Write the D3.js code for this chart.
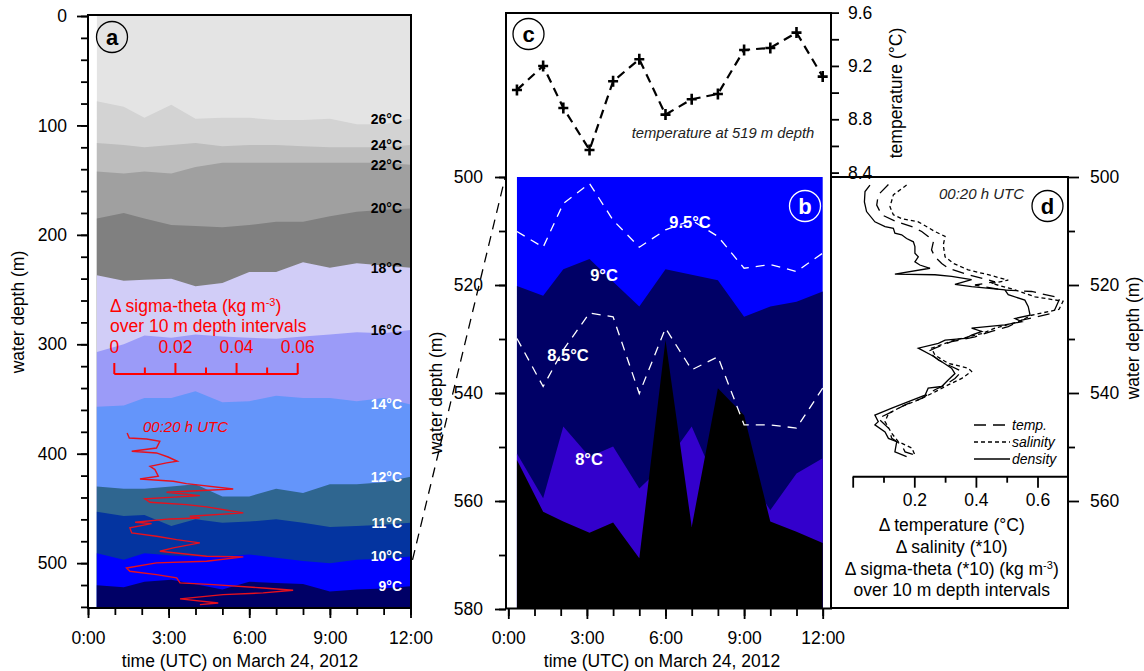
<!DOCTYPE html>
<html><head><meta charset="utf-8">
<script src="https://cdn.jsdelivr.net/npm/d3@7"></script>
<style>body{margin:0;background:#fff;}</style>
</head><body>
<svg id="chart" width="1144" height="671"></svg>
<script>
// ---------------- DATA ----------------
const times = [0.33, 1.33, 2.1, 3.1, 4.0, 5.0, 6.0, 7.0, 8.0, 9.0, 10.0, 11.0, 12.0];
// panel a isotherm depths (m)
const iso26 = [78, 83, 93, 81, 94, 93, 93, 95, 95, 94, 99, 99, 94];
const iso24 = [116, 118, 120, 118, 116, 119, 118, 118, 119, 120, 120, 120, 118];
const iso22 = [142, 144, 142, 144, 138, 134, 134, 134, 134, 134, 134, 134, 136];
const iso20 = [185, 180, 185, 191, 192, 193, 191, 188, 188, 183, 179, 177, 176];
const iso18 = [237, 242, 241, 240, 247, 244, 234, 234, 225, 230, 226, 228, 230];
const iso16 = [307, 300, 292, 294, 291, 293, 294, 295, 293, 291, 289, 290, 287];
const iso14 = [357, 356, 349, 349, 343, 353, 352, 347, 349, 349, 352, 349, 355];
const iso12 = [430, 432, 432, 430, 428, 439, 439, 432, 436, 428, 428, 426, 421];
const iso11 = [453, 457, 456, 466, 460, 463, 462, 460, 463, 467, 466, 465, 463];
const iso10 = [491, 497, 491, 493, 494, 494, 492, 495, 498, 500, 497, 496, 494];
const iso9  = [520.2, 522, 517.1, 515.2, 519.4, 524, 517.1, 518.1, 519.1, 525.9, 524, 523.1, 521.2];
const isoLabelsA = ["26°C","24°C","22°C","20°C","18°C","16°C","14°C","12°C","11°C","10°C","9°C"];
// panel b isotherms (m)
const iso95 = [510.1, 513, 504.9, 501.2, 508, 513, 509.8, 508, 511, 516.9, 516.2, 517.5, 514.1];
const iso85 = [529.9, 538.8, 532, 525.2, 525.9, 540.1, 528, 535.7, 533.3, 545.9, 545.9, 546.5, 539.1];
const iso8  = [551.2, 559.5, 546.2, 551.8, 549.9, 557.7, 553, 546.2, 557.3, 554.3, 561.7, 554.9, 552.1];
const isoBlack = [552.4, 562, 563.8, 565.9, 564, 570.6, 530.2, 564.8, 539.1, 544.1, 563.8, 565.7, 567.8];
// panel c temperature at 519 m (°C)
const temp519 = [9.02, 9.20, 8.885, 8.57, 9.085, 9.25, 8.835, 8.95, 8.99, 9.32, 9.335, 9.45, 9.12];
// panel a red profile: [delta sigma-theta, depth]
const sigProfile = [[0.0042,381.1],[0.0049,385.7],[0.0106,386.6],[0.0149,388.7],[0.0138,394.8],[0.0057,397.8],[0.0138,399.3],[0.0176,403],[0.0206,406.9],[0.0171,408.4],[0.0117,411.5],[0.0133,414.5],[0.0144,420.6],[0.0084,423.1],[0.0193,425.2],[0.0236,427.3],[0.0389,432.2],[0.0171,435.2],[0.0280,438.3],[0.0100,441.3],[0.0117,444.4],[0.0236,446.5],[0.0302,448.6],[0.0422,454.1],[0.0247,457.2],[0.0280,458.7],[0.0182,459.6],[0.0068,462.6],[0.0122,463.9],[0.0051,467.8],[0.0057,472.4],[0.0138,475.4],[0.0204,478.5],[0.0280,481.5],[0.0193,486.1],[0.0149,489.1],[0.0302,493.7],[0.0422,494.3],[0.0302,498.3],[0.0138,499.8],[0.0040,504.4],[0.0051,507.4],[0.0138,510.5],[0.0204,513.5],[0.0215,518.1],[0.0324,519.6],[0.0487,522.7],[0.0585,524.8],[0.0487,527.2],[0.0356,528.8],[0.0215,532.7],[0.0340,536.4],[0.0280,537.9]];
// panel d profiles: [value, depth]
const dTemp = [[0.116,501.4],[0.083,503.3],[0.078,505.2],[0.094,507],[0.143,508.3],[0.192,509.2],[0.224,510.1],[0.245,511],[0.262,512],[0.256,513.5],[0.267,514.8],[0.289,516],[0.310,516.9],[0.375,518.1],[0.462,519.4],[0.397,520],[0.484,520.9],[0.581,521.2],[0.673,522.4],[0.651,525.2],[0.549,526.5],[0.505,527.7],[0.451,528.6],[0.397,529.6],[0.321,530.5],[0.267,531.7],[0.245,532.3],[0.278,533.9],[0.321,535.1],[0.354,536],[0.332,537.3],[0.300,538.5],[0.267,539.4],[0.224,541],[0.170,542.2],[0.127,543.5],[0.083,544.7],[0.116,546.5],[0.127,548.4],[0.159,549.6],[0.170,550.9],[0.202,551.5]];
const dSal = [[0.175,501.5],[0.132,503.3],[0.121,505.5],[0.132,507],[0.159,507.7],[0.213,508.3],[0.267,510.1],[0.300,511],[0.294,512.6],[0.300,514.8],[0.327,516],[0.375,517.2],[0.440,518.1],[0.505,519.1],[0.451,519.7],[0.527,520.9],[0.592,522.2],[0.683,523],[0.67,524.5],[0.581,525.6],[0.538,526.8],[0.462,528],[0.419,529],[0.332,530.2],[0.256,531.7],[0.267,533],[0.310,534.5],[0.375,535.4],[0.386,536],[0.354,537.3],[0.310,538.5],[0.267,539.8],[0.213,541.3],[0.159,542.5],[0.116,543.8],[0.105,545.3],[0.127,547.5],[0.148,549],[0.192,550.2],[0.202,551.5]];
const dDens = [[0.056,501.5],[0.040,502.7],[0.038,504.6],[0.045,506.4],[0.072,508.3],[0.105,509.2],[0.132,509.5],[0.137,510.4],[0.159,510.7],[0.175,511.4],[0.197,512],[0.202,512.9],[0.202,514.1],[0.213,514.8],[0.202,515.7],[0.218,516.3],[0.251,516.9],[0.137,518],[0.267,518.1],[0.321,518.4],[0.386,519],[0.332,519.9],[0.386,520.3],[0.494,520.9],[0.505,521.8],[0.559,522.8],[0.570,524],[0.576,525.6],[0.527,526.2],[0.549,526.8],[0.494,527.4],[0.386,528],[0.419,528.6],[0.386,529.3],[0.365,529.9],[0.300,530.2],[0.278,530.8],[0.213,531.7],[0.256,533],[0.289,534.2],[0.321,535.4],[0.332,536.4],[0.310,537.6],[0.289,538.8],[0.245,539.1],[0.235,540.4],[0.181,541.6],[0.127,542.8],[0.072,544.1],[0.083,545.3],[0.072,545.9],[0.105,547.2],[0.116,548.4],[0.143,549],[0.137,550.9],[0.175,551.8]];
const hourTicks = [0,1,2,3,4,5,6,7,8,9,10,11,12];
const hourLabels = [0,3,6,9,12];

// ---------------- SETUP ----------------
const FONT = '"Liberation Sans", Arial, Helvetica, sans-serif';
const FS = 17.5;
const svg = d3.select('#chart').attr('font-family', FONT);
const RED = '#ff0000';

function styleAxis(g, fs) {
  g.select('.domain').remove();
  g.selectAll('.tick line').attr('stroke', '#000').attr('stroke-width', 1.8);
  g.selectAll('.tick text').attr('font-size', fs).attr('font-family', FONT).attr('fill', '#000');
  g.attr('font-family', FONT);
}
function txt(x, y, s, opts = {}) {
  const t = svg.append('text').attr('x', x).attr('y', y).text(s)
    .attr('font-size', opts.size || FS).attr('fill', opts.fill || '#000')
    .attr('text-anchor', opts.anchor || 'start');
  if (opts.weight) t.attr('font-weight', opts.weight);
  if (opts.style) t.attr('font-style', opts.style);
  if (opts.rotate) t.attr('transform', `rotate(${opts.rotate},${x},${y})`);
  return t;
}
function circleLabel(cx, cy, letter, color) {
  svg.append('circle').attr('cx', cx).attr('cy', cy).attr('r', 15.5)
    .attr('fill', 'none').attr('stroke', color).attr('stroke-width', 1.3);
  svg.append('text').attr('x', cx).attr('y', cy + 7.5).attr('text-anchor', 'middle')
    .attr('font-size', 22).attr('font-weight', 'bold').attr('fill', color).text(letter);
}

// ---------------- PANEL A ----------------
const xa = d3.scaleLinear().domain([0, 12]).range([88, 410.5]);
const ya = d3.scaleLinear().domain([0, 541]).range([16, 608]);
const isoA = [iso26, iso24, iso22, iso20, iso18, iso16, iso14, iso12, iso11, iso10, iso9];
const colA = ['#e4e4e4', '#d3d3d3', '#bdbdbd', '#a0a0a0', '#808080', '#d1cdf7', '#9b9bf8',
              '#6495fa', '#2f6690', '#0434a0', '#0000fe', '#000066'];
const labColA = ['#000','#000','#000','#000','#000','#000','#fff','#fff','#fff','#fff','#fff'];
const gA = svg.append('g');
gA.append('path').datum(times)
  .attr('d', d3.area().x(t => xa(t)).y0(ya(0)).y1(ya(541)))
  .attr('fill', colA[0]);
isoA.forEach((iso, k) => {
  gA.append('path').datum(iso)
    .attr('d', d3.area().x((d, i) => xa(times[i])).y0(d => ya(d)).y1(ya(541)))
    .attr('fill', colA[k + 1]);
});
isoA.forEach((iso, k) => {
  gA.append('text').attr('x', 402).attr('y', ya(iso[iso.length - 1])).attr('dy', '0.35em')
    .attr('text-anchor', 'end').attr('font-size', 14).attr('font-weight', 'bold')
    .attr('fill', labColA[k]).text(isoLabelsA[k]);
});
// red scale
const xs = d3.scaleLinear().domain([0, 0.06]).range([114.3, 297.7]);
const gS = svg.append('g');
gS.append('line').attr('x1', xs(0)).attr('x2', xs(0.06)).attr('y1', 374).attr('y2', 374)
  .attr('stroke', RED).attr('stroke-width', 2);
[0, 0.01, 0.02, 0.03, 0.04, 0.05, 0.06].forEach((v, i) => {
  gS.append('line').attr('x1', xs(v)).attr('x2', xs(v)).attr('y1', 374)
    .attr('y2', i % 2 === 0 ? 363 : 367.5).attr('stroke', RED).attr('stroke-width', 2);
});
[0, 0.02, 0.04, 0.06].forEach(v => {
  txt(xs(v), 353, v === 0 ? '0' : d3.format('.2f')(v), { fill: RED, anchor: 'middle' });
});
const t1 = txt(110, 312, 'Δ sigma-theta (kg m', { fill: RED });
t1.append('tspan').attr('font-size', 11).attr('dy', -6.5).text('-3');
t1.append('tspan').attr('dy', 6.5).text(')');
txt(110, 332, 'over 10 m depth intervals', { fill: RED });
txt(143, 431.5, '00:20 h UTC', { fill: RED, size: 15, style: 'italic' });
gA.append('path').datum(sigProfile)
  .attr('d', d3.line().x(d => xs(d[0])).y(d => ya(d[1])))
  .attr('fill', 'none').attr('stroke', '#e8101c').attr('stroke-width', 1.4);

// frame & axes a
svg.append('rect').attr('x', 88).attr('y', 15).attr('width', 323).attr('height', 593)
  .attr('fill', 'none').attr('stroke', '#000').attr('stroke-width', 2);
const ayMin = svg.append('g').attr('transform', 'translate(88,0)')
  .call(d3.axisLeft(ya).tickValues(d3.range(0, 541, 20)).tickSize(7).tickFormat(''));
styleAxis(ayMin, FS);
const ayMaj = svg.append('g').attr('transform', 'translate(88,0)')
  .call(d3.axisLeft(ya).tickValues(d3.range(0, 501, 100)).tickSize(11).tickPadding(10).tickFormat(d3.format('d')));
styleAxis(ayMaj, FS);
const axMin = svg.append('g').attr('transform', 'translate(0,608)')
  .call(d3.axisBottom(xa).tickValues(hourTicks).tickSize(7).tickFormat(''));
styleAxis(axMin, FS);
const axMaj = svg.append('g').attr('transform', 'translate(0,608)')
  .call(d3.axisBottom(xa).tickValues(hourLabels).tickSize(10).tickPadding(14).tickFormat(h => h + ':00'));
styleAxis(axMaj, FS);
txt(24, 312, 'water depth (m)', { anchor: 'middle', rotate: -90 });
txt(240, 667, 'time (UTC) on March 24, 2012', { anchor: 'middle' });
circleLabel(112, 37, 'a', '#000');

// ---------------- PANEL B ----------------
const xb = d3.scaleLinear().domain([0, 12]).range([508.3, 822.7]);
const yb = d3.scaleLinear().domain([500, 580]).range([177, 609]);
const gB = svg.append('g');
const bandB = [[null, '#0000ff'], [iso9, '#000066'], [iso8, '#3300cc'], [isoBlack, '#000000']];
bandB.forEach(([iso, col]) => {
  gB.append('path').datum(times)
    .attr('d', d3.area().x(t => xb(t)).y0((t, i) => yb(iso ? iso[i] : 500)).y1(yb(580)))
    .attr('fill', col);
});
[iso95, iso85].forEach(iso => {
  gB.append('path').datum(iso)
    .attr('d', d3.line().x((d, i) => xb(times[i])).y(d => yb(d)))
    .attr('fill', 'none').attr('stroke', '#fff').attr('stroke-width', 1.3)
    .attr('stroke-dasharray', '9,7');
});
[['9.5°C', 690, 222], ['9°C', 604, 275], ['8.5°C', 568, 355], ['8°C', 589, 459]].forEach(([s, x, y]) => {
  gB.append('text').attr('x', x).attr('y', y).attr('dy', '0.35em').attr('text-anchor', 'middle')
    .attr('font-size', 16.5).attr('font-weight', 'bold').attr('fill', '#fff').text(s);
});
circleLabel(805, 206, 'b', '#fff');

// ---------------- PANEL C ----------------
const yc = d3.scaleLinear().domain([8.4, 9.6]).range([172.6, 12.6]);
svg.append('path').datum(temp519)
  .attr('d', d3.line().x((d, i) => xb(times[i])).y(d => yc(d)))
  .attr('fill', 'none').attr('stroke', '#000').attr('stroke-width', 2.2).attr('stroke-dasharray', '9,6');
svg.selectAll('.cross').data(temp519).enter().append('path')
  .attr('transform', (d, i) => `translate(${xb(times[i])},${yc(d)})`)
  .attr('d', 'M-5,0H5M0,-5.5V5.5').attr('stroke', '#000').attr('stroke-width', 2.6).attr('fill', 'none');
txt(723, 138, 'temperature at 519 m depth', { size: 14.8, style: 'italic', anchor: 'middle', fill: '#222' });
circleLabel(528.5, 34, 'c', '#000');

// frame b/c and axes
svg.append('rect').attr('x', 506).attr('y', 13).attr('width', 325).attr('height', 595.5)
  .attr('fill', 'none').attr('stroke', '#000').attr('stroke-width', 2);
const byMin = svg.append('g').attr('transform', 'translate(506,0)')
  .call(d3.axisLeft(yb).tickValues(d3.range(500, 581, 10)).tickSize(7).tickFormat(''));
styleAxis(byMin, FS);
const byMaj = svg.append('g').attr('transform', 'translate(506,0)')
  .call(d3.axisLeft(yb).tickValues(d3.range(500, 581, 20)).tickSize(11).tickPadding(12).tickFormat(d3.format('d')));
styleAxis(byMaj, FS);
const bxMin = svg.append('g').attr('transform', 'translate(0,609)')
  .call(d3.axisBottom(xb).tickValues(hourTicks).tickSize(7).tickFormat(''));
styleAxis(bxMin, FS);
const bxMaj = svg.append('g').attr('transform', 'translate(0,609)')
  .call(d3.axisBottom(xb).tickValues(hourLabels).tickSize(10).tickPadding(13).tickFormat(h => h + ':00'));
styleAxis(bxMaj, FS);
const cyAx = svg.append('g').attr('transform', 'translate(831,0)')
  .call(d3.axisRight(yc).tickValues([8.4, 8.6, 8.8, 9.0, 9.2, 9.4, 9.6]).tickSize(8).tickPadding(9)
    .tickFormat(v => [8.4, 8.8, 9.2, 9.6].some(l => Math.abs(l - v) < 1e-6) ? d3.format('.1f')(v) : ''));
styleAxis(cyAx, FS);
txt(442, 393, 'water depth (m)', { anchor: 'middle', rotate: -90 });
txt(662, 667, 'time (UTC) on March 24, 2012', { anchor: 'middle' });
txt(902, 93, 'temperature (°C)', { anchor: 'middle', rotate: -90 });

// connector
svg.append('line').attr('x1', xa(12) + 2).attr('y1', ya(497)).attr('x2', 505).attr('y2', yb(500) + 1)
  .attr('stroke', '#000').attr('stroke-width', 1.3).attr('stroke-dasharray', '10,7');

// ---------------- PANEL D ----------------
const xd = d3.scaleLinear().domain([0, 0.7]).range([852.7, 1068.3]);
const gD = svg.append('g');
const lineD = d3.line().x(d => xd(d[0])).y(d => yb(d[1]));
[[dTemp, '12,7'], [dSal, '4,3'], [dDens, null]].forEach(([data, dash]) => {
  const p = gD.append('path').datum(data).attr('d', lineD)
    .attr('fill', 'none').attr('stroke', '#000').attr('stroke-width', 1.3);
  if (dash) p.attr('stroke-dasharray', dash);
});
// legend
[['temp.', '12,7', 425], ['salinity', '4,3', 442], ['density', null, 459]].forEach(([s, dash, y]) => {
  const l = gD.append('line').attr('x1', 974).attr('x2', 1010).attr('y1', y).attr('y2', y)
    .attr('stroke', '#000').attr('stroke-width', 1.3);
  if (dash) l.attr('stroke-dasharray', dash);
  txt(1012, y + 5, s, { size: 14, style: 'italic' });
});
txt(981.5, 198.5, '00:20 h UTC', { size: 15, style: 'italic', anchor: 'middle', fill: '#222' });
circleLabel(1047.5, 206, 'd', '#000');
svg.append('rect').attr('x', 831).attr('y', 177).attr('width', 237).attr('height', 431)
  .attr('fill', 'none').attr('stroke', '#000').attr('stroke-width', 2);
svg.append('line').attr('x1', xd(0)).attr('x2', xd(0.7)).attr('y1', 476.7).attr('y2', 476.7)
  .attr('stroke', '#000').attr('stroke-width', 2);
const dxMin = svg.append('g').attr('transform', 'translate(0,476.7)')
  .call(d3.axisBottom(xd).tickValues([0.1, 0.3, 0.5]).tickSize(6).tickFormat(''));
styleAxis(dxMin, FS);
const dxMaj = svg.append('g').attr('transform', 'translate(0,476.7)')
  .call(d3.axisBottom(xd).tickValues([0, 0.2, 0.4, 0.6]).tickSize(11).tickPadding(6)
    .tickFormat(v => v === 0 ? '' : d3.format('.1f')(v)));
styleAxis(dxMaj, FS);
const dyMin = svg.append('g').attr('transform', 'translate(1068,0)')
  .call(d3.axisRight(yb).tickValues([510, 530, 550]).tickSize(7).tickFormat(''));
styleAxis(dyMin, FS);
const dyMaj = svg.append('g').attr('transform', 'translate(1068,0)')
  .call(d3.axisRight(yb).tickValues([500, 520, 540, 560]).tickSize(11).tickPadding(11).tickFormat(d3.format('d')));
styleAxis(dyMaj, FS);
txt(1139, 338, 'water depth (m)', { anchor: 'middle', rotate: -90 });
const cx = 951.7;
txt(cx, 531, 'Δ temperature (°C)', { anchor: 'middle' });
txt(cx, 553, 'Δ salinity (*10)', { anchor: 'middle' });
const t2 = txt(cx, 575, 'Δ sigma-theta (*10) (kg m', { anchor: 'middle' });
t2.append('tspan').attr('font-size', 11).attr('dy', -6.5).text('-3');
t2.append('tspan').attr('dy', 6.5).text(')');
txt(cx, 596, 'over 10 m depth intervals', { anchor: 'middle' });
</script>
</body></html>
